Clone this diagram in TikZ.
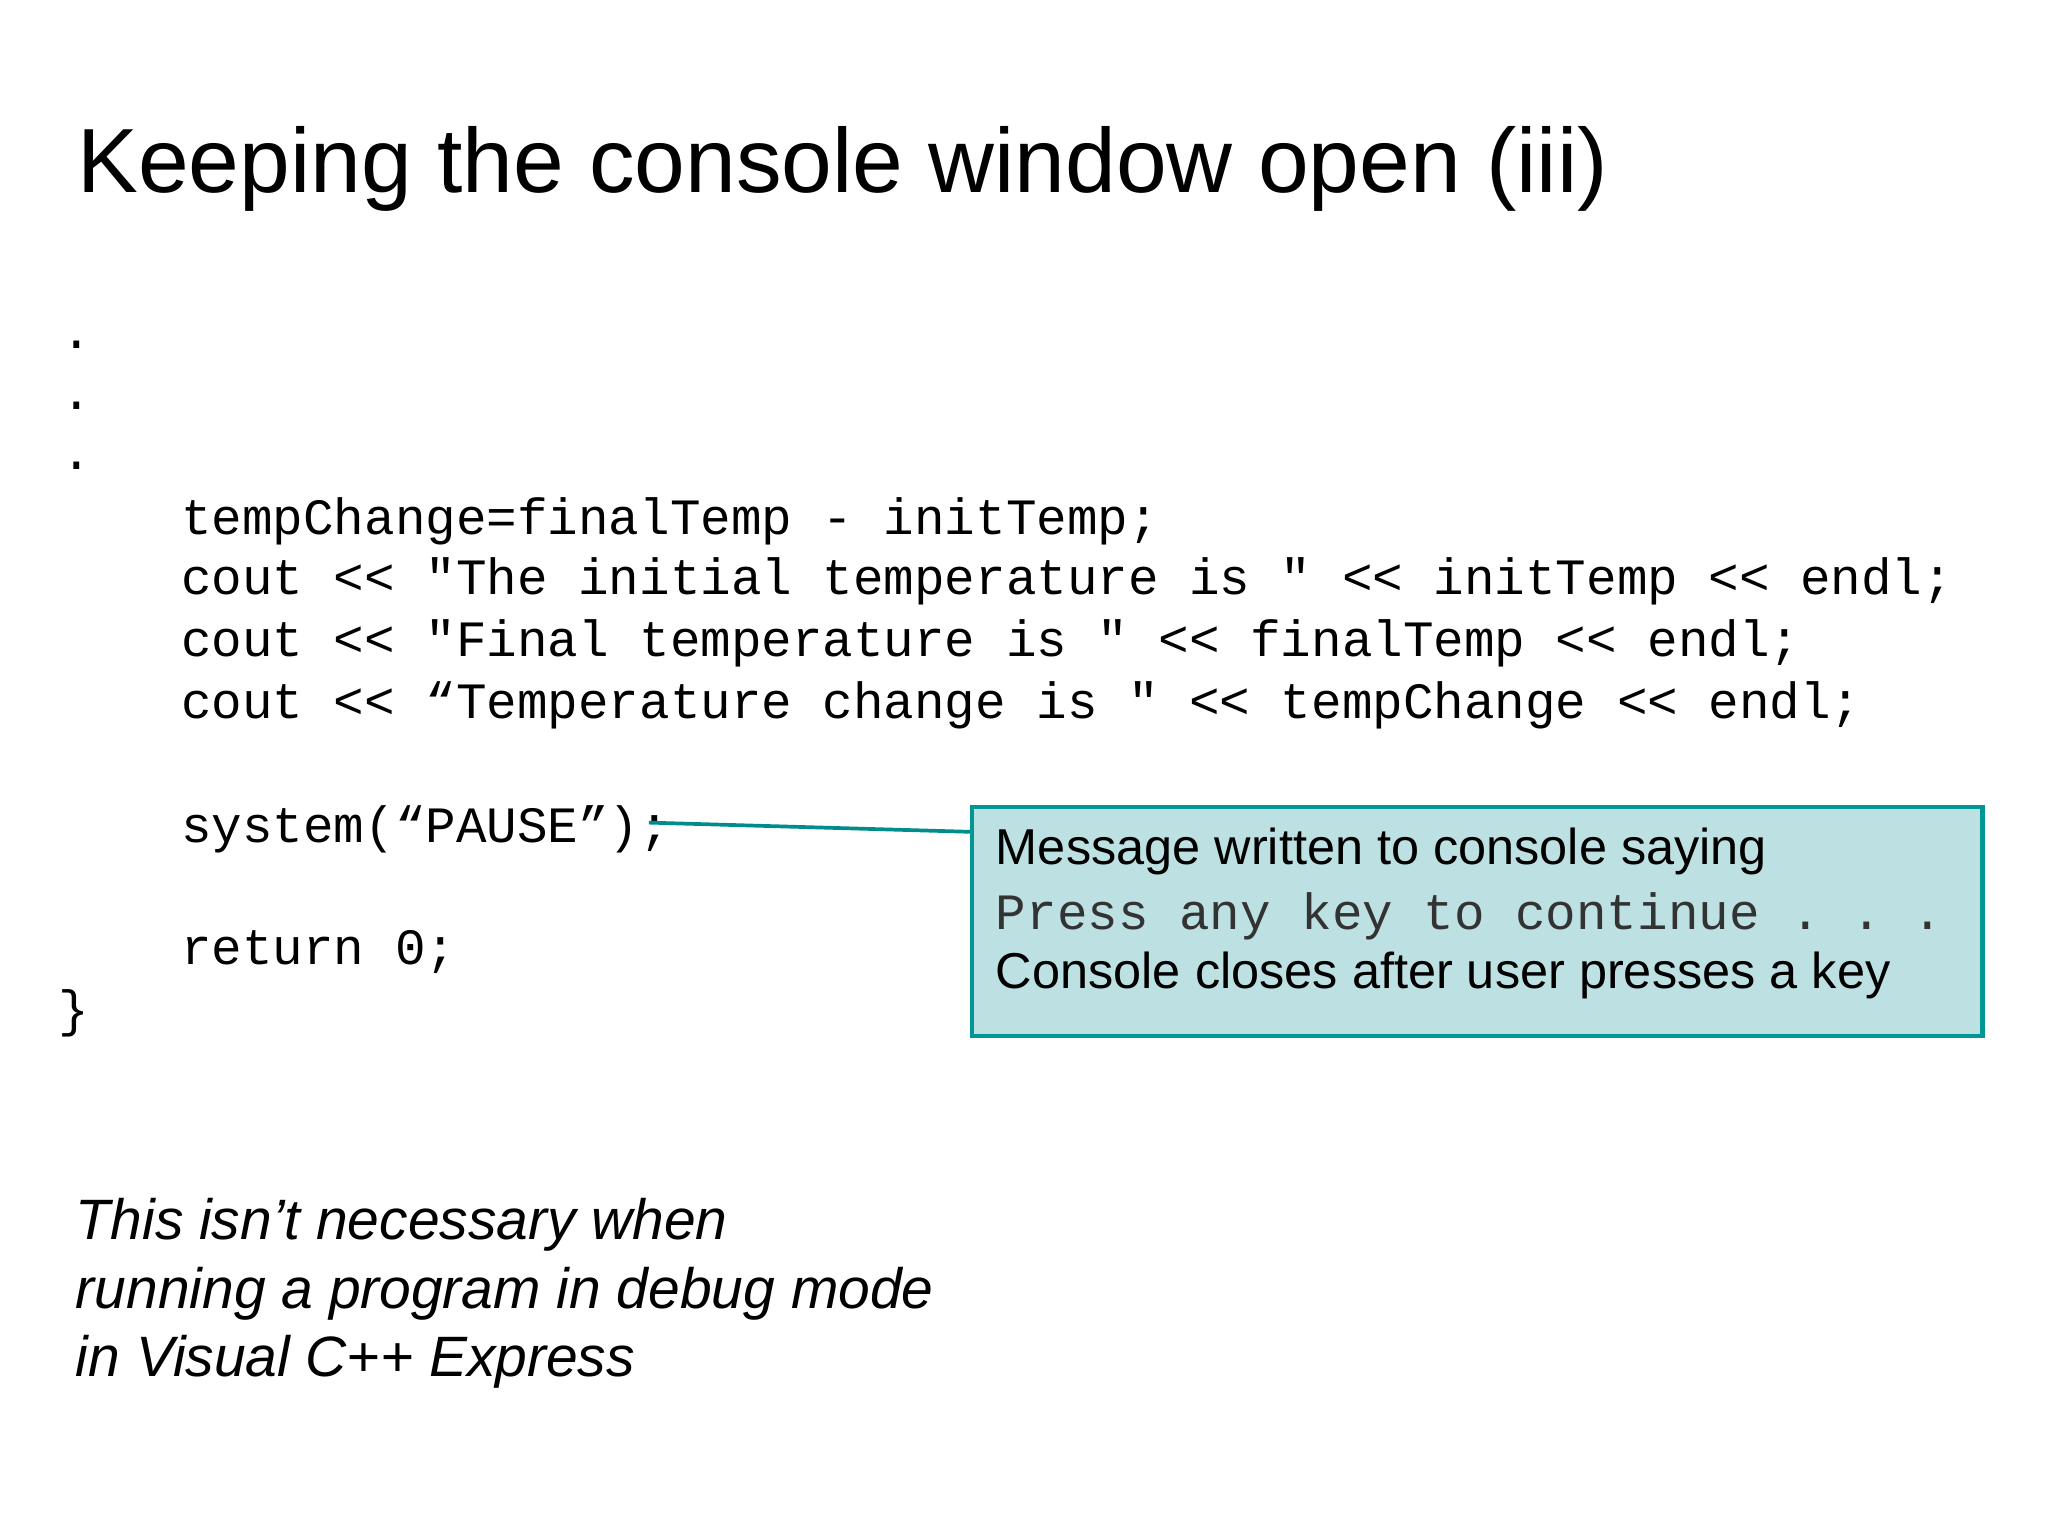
\documentclass[tikz,border=0pt]{standalone}
\usepackage{fontspec}
\setmainfont{Liberation Sans}
\setmonofont{Liberation Mono}
\begin{document}
\begin{tikzpicture}[x=0.01cm,y=-0.01cm,
  code/.style={anchor=west,inner sep=0pt,font=\ttfamily\fontsize{11pt}{13pt}\selectfont},
  boxtext/.style={anchor=west,inner sep=0pt,font=\fontsize{10.9pt}{13pt}\selectfont},
  note/.style={anchor=north west,inner sep=0pt,align=left,font=\itshape\fontsize{12.3pt}{14.8pt}\selectfont}]
\useasboundingbox (0,0) rectangle (1556,1167);
\node[anchor=west,inner sep=0pt,font=\fontsize{19.7pt}{22pt}\selectfont] (title) at (58,128) {Keeping the console window open (iii)};
\node[draw={rgb,255:red,0;green,150;blue,150},fill={rgb,255:red,189;green,224;blue,226},line width=0.9pt,minimum width=7.67cm,minimum height=1.74cm,inner sep=0pt] (box) at (1122.5,700) {};
\node[code] (d1) at (46,262) {.};
\node[code] (d2) at (46,308) {.};
\node[code] (d3) at (46,354) {.};
\node[code] (l1) at (137,396) {tempChange=finalTemp - initTemp;};
\node[code] (l2) at (137,442) {cout << "The initial temperature is " << initTemp << endl;};
\node[code] (l3) at (137,489) {cout << "Final temperature is " << finalTemp << endl;};
\node[code] (l4) at (137,536) {cout << “Temperature change is " << tempChange << endl;};
\node[code] (l5) at (137,630) {system(“PAUSE”);};
\node[code] (l6) at (137,723) {return 0;};
\node[code] (l7) at (44,770) {\}};
\node[boxtext] (b1) at (756,647) {Message written to console saying};
\node[code] (b2) at (756,696) {\color{black!80}Press any key to continue . . .};
\node[boxtext] (b3) at (756,741) {Console closes after user presses a key};
\coordinate (tip) at (493,625);
\draw[color={rgb,255:red,0;green,140;blue,140},line width=0.8pt] (tip) -- (box.west |- 0,632);
\node[note] (n) at (57,910) {This isn’t necessary when\\running a program in debug mode\\in Visual C++ Express};
\end{tikzpicture}
\end{document}
